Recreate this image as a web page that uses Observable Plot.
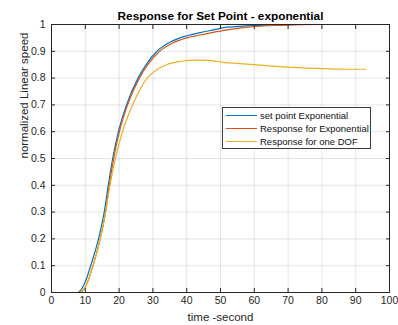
<!DOCTYPE html>
<html><head><meta charset="utf-8">
<script src="https://cdn.jsdelivr.net/npm/d3@7"></script>
<script src="https://cdn.jsdelivr.net/npm/@observablehq/plot@0.6"></script>
<style>
body{margin:0;background:#fff;font-family:"Liberation Sans",Arial,sans-serif;}
#wrap{position:relative;width:398px;height:325px;}
#legend{position:absolute;left:222px;top:107px;width:147px;height:40px;border:1px solid #3a3a3a;background:#fff;font-size:9.5px;color:#111;}
#legend .row{position:absolute;left:3px;height:12px;line-height:12px;white-space:nowrap;}
#legend .sw{display:inline-block;width:31px;height:0;border-top:1.3px solid;vertical-align:middle;margin-right:3px;position:relative;top:-1px;}
</style></head>
<body><div id="wrap"></div>
<script>
const title = "Response for Set Point - exponential";
const xLabel = "time -second";
const yLabel = "normalized Linear speed";
const seriesNames = ["set point Exponential", "Response for Exponential", "Response for one DOF"];
const colors = ["#0072BD", "#D95319", "#EDB120"];
const xTicks = [0,10,20,30,40,50,60,70,80,90,100];
const yTicks = [0,0.1,0.2,0.3,0.4,0.5,0.6,0.7,0.8,0.9,1];

const tSet  = [1, 7.7, 10, 11.6, 13.9, 15.6, 16.8, 18.1, 19.8, 22.2, 25.6, 28, 31.2, 34.5, 38, 44, 48, 52, 62, 72, 93];
const vSet  = [0, 0, 0.04, 0.1, 0.2, 0.3, 0.4, 0.5, 0.6, 0.7, 0.8, 0.85, 0.9, 0.93, 0.95, 0.97, 0.98, 0.99, 0.997, 1.0, 1.0];
const tExp  = [1, 8.2, 10, 12.3, 14.4, 16.0, 17.1, 18.4, 20.1, 22.5, 26, 28.5, 32, 35.7, 40, 43.5, 47.5, 52, 58, 68, 80, 93];
const vExp  = [0, 0, 0.02, 0.1, 0.2, 0.3, 0.4, 0.5, 0.6, 0.7, 0.8, 0.85, 0.9, 0.93, 0.95, 0.96, 0.97, 0.98, 0.99, 0.997, 1.0, 1.0];
const tDof  = [1, 8.2, 10, 12.3, 14.4, 16.0, 17.3, 18.9, 21.0, 24.0, 28.3, 31, 34, 38, 42, 46, 51, 60, 70, 80, 88, 93];
const vDof  = [0, 0, 0.02, 0.1, 0.2, 0.3, 0.4, 0.5, 0.6, 0.7, 0.8, 0.83, 0.85, 0.862, 0.867, 0.866, 0.859, 0.850, 0.841, 0.835, 0.833, 0.833];

const series = [[tSet, vSet], [tExp, vExp], [tDof, vDof]].map(([t, v], i) =>
  t.map((x, j) => ({t: x, v: v[j], s: seriesNames[i]})));

const ink = "#262626";
const fmt = d => String(+d.toFixed(1));

const chart = Plot.plot({
  width: 398, height: 325,
  marginLeft: 51, marginRight: 9, marginTop: 24, marginBottom: 33,
  style: {fontFamily: "'Liberation Sans', Arial, sans-serif", fontSize: "10.5px", color: ink, background: "#fff"},
  x: {domain: [0, 100], ticks: xTicks},
  y: {domain: [0, 1], ticks: yTicks},
  marks: [
    Plot.gridX(xTicks, {stroke: ink, strokeOpacity: 0.12}),
    Plot.gridY(yTicks, {stroke: ink, strokeOpacity: 0.12}),
    ...series.map((d, i) => Plot.line(d, {x: "t", y: "v", stroke: colors[i], strokeWidth: 1.2, curve: "monotone-x"})),
    Plot.frame({stroke: ink, strokeWidth: 1}),
    Plot.axisX(xTicks, {anchor: "bottom", tickSize: -4, tickPadding: 8, tickFormat: fmt, label: null, stroke: ink, fill: ink}),
    Plot.axisX(xTicks, {anchor: "top", tickSize: -4, tickFormat: () => "", label: null, stroke: ink}),
    Plot.axisY(yTicks, {anchor: "left", tickSize: -4, tickPadding: 10, tickFormat: fmt, label: null, stroke: ink, fill: ink}),
    Plot.axisY(yTicks, {anchor: "right", tickSize: -4, tickFormat: () => "", label: null, stroke: ink}),
    Plot.text([title], {text: d => d, frameAnchor: "top", lineAnchor: "bottom", dy: -5, fontWeight: "bold", fontSize: 11.8, fill: "#000"}),
    Plot.text([xLabel], {text: d => d, frameAnchor: "bottom", lineAnchor: "bottom", dy: 28, fontSize: 11.5, fill: ink}),
    Plot.text([yLabel], {text: d => d, frameAnchor: "left", lineAnchor: "bottom", rotate: -90, dx: -24, fontSize: 11.5, fill: ink})
  ]
});
const wrap = document.getElementById("wrap");
wrap.appendChild(chart);

const legend = document.createElement("div");
legend.id = "legend";
seriesNames.forEach((name, i) => {
  const row = document.createElement("div");
  row.className = "row";
  row.style.top = (2 + i * 13) + "px";
  const sw = document.createElement("span");
  sw.className = "sw";
  sw.style.borderTopColor = colors[i];
  row.appendChild(sw);
  row.appendChild(document.createTextNode(name));
  legend.appendChild(row);
});
wrap.appendChild(legend);
</script></body></html>
